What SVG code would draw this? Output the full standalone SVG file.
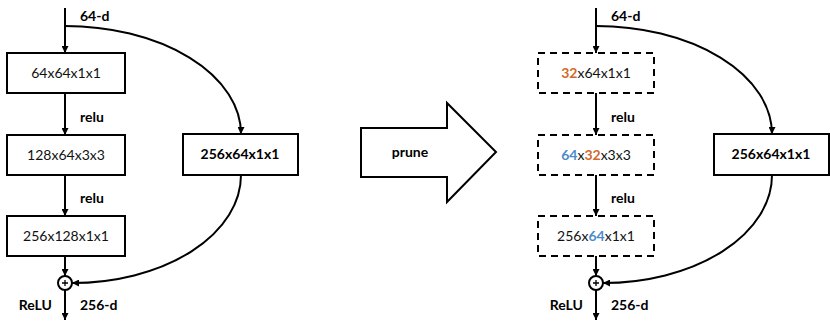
<svg xmlns="http://www.w3.org/2000/svg" width="830" height="322" viewBox="0 0 830 322">
<style>
.box{fill:#fff;stroke:#000;stroke-width:2}
.dash{fill:#fff;stroke:#000;stroke-width:2;stroke-dasharray:7 5}
.ln{fill:none;stroke:#000;stroke-width:2}
.t{font-family:Lato,"Open Sans",sans-serif;font-size:14px;fill:#111;text-anchor:middle}
.tb{font-family:Lato,"Open Sans",sans-serif;font-size:14px;font-weight:bold;fill:#000}
.o{fill:#D2692A;font-weight:bold}
.b{fill:#4A8BCB;font-weight:bold}
</style>
<defs>
<marker id="ah" viewBox="0 0 10 10" refX="10" refY="5" markerWidth="8" markerHeight="7" orient="auto" markerUnits="userSpaceOnUse">
<path d="M0,0 L10,5 L0,10 z" fill="#000"/>
</marker>
</defs>
<g id="connectors">
<path class="ln" d="M65,8 V53" marker-end="url(#ah)"/>
<path class="ln" d="M65,93 V135" marker-end="url(#ah)"/>
<path class="ln" d="M65,175 V216" marker-end="url(#ah)"/>
<path class="ln" d="M65,256 V276" marker-end="url(#ah)"/>
<path class="ln" d="M65,290 V320" marker-end="url(#ah)"/>
<path class="ln" d="M65,26 A176,108 0 0 1 241,134" marker-end="url(#ah)"/>
<path class="ln" d="M241,175 A169,108 0 0 1 72,283" marker-end="url(#ah)"/>
<path class="ln" d="M596,8 V53" marker-end="url(#ah)"/>
<path class="ln" d="M596,93 V135" marker-end="url(#ah)"/>
<path class="ln" d="M596,175 V216" marker-end="url(#ah)"/>
<path class="ln" d="M596,256 V276" marker-end="url(#ah)"/>
<path class="ln" d="M596,290 V320" marker-end="url(#ah)"/>
<path class="ln" d="M596,26 A176,108 0 0 1 772,134" marker-end="url(#ah)"/>
<path class="ln" d="M772,175 A169,108 0 0 1 603,283" marker-end="url(#ah)"/>
</g>
<g id="labels">
<text class="tb" x="80" y="21">64-d</text>
<text class="tb" x="80" y="122">relu</text>
<text class="tb" x="80" y="203">relu</text>
<text class="tb" x="52" y="310" text-anchor="end">ReLU</text>
<text class="tb" x="80" y="310">256-d</text>
<text class="tb" x="611" y="21">64-d</text>
<text class="tb" x="611" y="122">relu</text>
<text class="tb" x="611" y="203">relu</text>
<text class="tb" x="583" y="310" text-anchor="end">ReLU</text>
<text class="tb" x="611" y="310">256-d</text>
</g>
<g id="L-conv1"><rect class="box" x="7" y="53" width="118" height="40"/><text class="t" x="66" y="78">64x64x1x1</text></g>
<g id="L-conv2"><rect class="box" x="7" y="135" width="118" height="40"/><text class="t" x="66" y="160">128x64x3x3</text></g>
<g id="L-conv3"><rect class="box" x="7" y="216" width="118" height="40"/><text class="t" x="66" y="241">256x128x1x1</text></g>
<g id="L-short"><rect class="box" x="183" y="134" width="115" height="41"/><text class="tb" x="240" y="159" text-anchor="middle">256x64x1x1</text></g>
<g id="L-sum"><circle cx="65" cy="283" r="7" fill="#fff" stroke="#000" stroke-width="2"/><path d="M62,283 H68 M65,280 V286" stroke="#000" stroke-width="1.3"/></g>
<g id="prune"><polygon points="361,128 447,128 447,103 496,152 447,202 447,177 361,177" fill="#fff" stroke="#000" stroke-width="2"/><text class="tb" x="410" y="157" text-anchor="middle">prune</text></g>
<g id="R-conv1"><rect class="dash" x="538" y="53" width="116" height="40"/><text class="t" x="596" y="78"><tspan class="o">32</tspan>x64x1x1</text></g>
<g id="R-conv2"><rect class="dash" x="538" y="135" width="116" height="40"/><text class="t" x="596" y="160"><tspan class="b">64</tspan>x<tspan class="o">32</tspan>x3x3</text></g>
<g id="R-conv3"><rect class="dash" x="538" y="216" width="116" height="40"/><text class="t" x="596" y="241">256x<tspan class="b">64</tspan>x1x1</text></g>
<g id="R-short"><rect class="box" x="714" y="134" width="115" height="41"/><text class="tb" x="771" y="159" text-anchor="middle">256x64x1x1</text></g>
<g id="R-sum"><circle cx="596" cy="283" r="7" fill="#fff" stroke="#000" stroke-width="2"/><path d="M593,283 H599 M596,280 V286" stroke="#000" stroke-width="1.3"/></g>
</svg>
